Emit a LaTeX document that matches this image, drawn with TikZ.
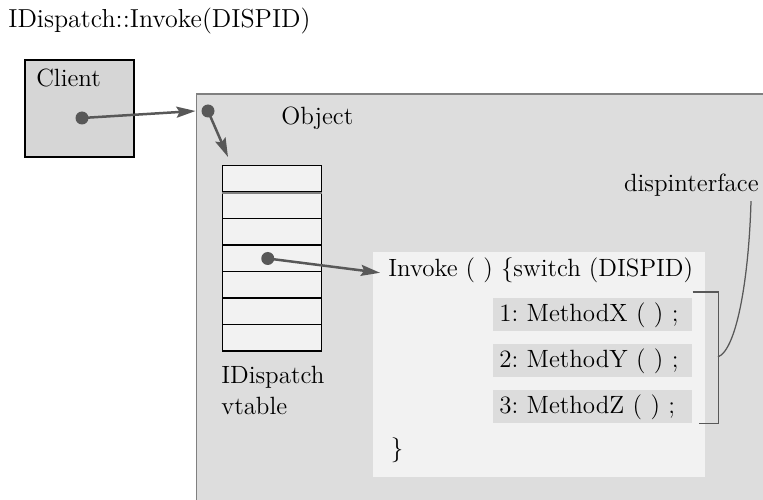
\documentclass[tikz,border=0pt]{standalone}
\frenchspacing
\usetikzlibrary{arrows.meta,positioning}
\definecolor{objgray}{RGB}{221,221,221}
\definecolor{clientgray}{RGB}{214,214,214}
\definecolor{paleback}{RGB}{242,242,242}
\definecolor{methgray}{RGB}{220,220,220}
\definecolor{ptrgray}{RGB}{88,88,88}
\definecolor{edgegray}{RGB}{128,128,128}

\begin{document}
\begin{tikzpicture}[
	every node/.style={font=\fontsize{14.2}{17}\selectfont},
	lbl/.style={anchor=base west,inner sep=0pt},
	dot/.style={circle,fill=ptrgray,inner sep=0pt,minimum size=2.6mm},
	ptr/.style={draw=ptrgray,line width=0.5mm,-{Stealth[length=3.8mm,width=2.2mm,inset=0.6mm]}},
	slot/.style={draw=black,line width=0.3mm,fill=paleback,minimum width=19.8mm,minimum height=5.3mm,inner sep=0pt,anchor=north west},
	methbox/.style={fill=methgray,text width=37.4mm,align=left,minimum height=6.6mm,inner xsep=1.2mm,inner ysep=0pt,anchor=north west},
	brk/.style={draw=ptrgray,line width=0.25mm}
	]
				%\draw[color=gray,step=1mm, help lines,opacity=0.3] (0pt,0pt) grid (152.6mm,99.8mm); %help grids
				\clip (0mm,0mm) rectangle (152.6mm,99.8mm);
				\fill[white] (0mm,0mm) rectangle (152.6mm,99.8mm);

				\node[lbl,font=\fontsize{14.8}{18}\selectfont] (title) at (1.6mm,94.2mm) {IDispatch::Invoke(DISPID)};

				% client
				\node[draw=black,line width=0.45mm,fill=clientgray,minimum width=21.8mm,minimum height=19.4mm,inner sep=0pt,anchor=south west] (client) at (4.8mm,68.2mm) {};
				\node[lbl] (clientname) at (7.2mm,82.4mm) {Client};
				\node[dot] (clientdot) at (16.4mm,76.2mm) {};

				% object
				\node[draw=edgegray,line width=0.35mm,fill=objgray,minimum width=130mm,minimum height=90mm,inner sep=0pt,anchor=north west] (object) at (39.1mm,81.2mm) {};
				\node[lbl] (objname) at (56.2mm,74.8mm) {Object};
				\node[dot] (objdot) at (41.6mm,77.6mm) {};

				% vtable
				\foreach \i in {0,...,6}
					\node[slot] (slot\i) at (44.3mm,66.8mm-\i*5.3mm) {};
				\draw[edgegray,line width=0.3mm] (slot0.south west) -- (slot0.south east);
				\node[dot] (vtdot) at ([xshift=-0.8mm]slot3.center) {};
				\node[lbl] (vtname) at (44.2mm,23mm) {IDispatch};
				\node[lbl] (vtname2) at (44.2mm,16.8mm) {vtable};

				% invoke body
				\node[fill=paleback,minimum width=66.4mm,minimum height=45mm,inner sep=0pt,anchor=south west] (invbox) at (74.6mm,4.4mm) {};
				\node[lbl] (invk) at (77.6mm,44.4mm) {Invoke ( ) \{switch (DISPID)};
				\node[methbox] (meth1) at (98.6mm,40.2mm) {1: MethodX ( ) ;};
				\node[methbox] (meth2) at (98.6mm,31mm) {2: MethodY ( ) ;};
				\node[methbox] (meth3) at (98.6mm,21.8mm) {3: MethodZ ( ) ;};
				\node (close) at (79.4mm,9.8mm) {\}};

				\node[anchor=base east,inner sep=0pt] (disp) at (151.8mm,61.4mm) {dispinterface};
				\coordinate (brmid) at (143.6mm,28.4mm);

				% pointers
				\draw[ptr] (clientdot.center) -- (objdot -| object.west);
				\draw[ptr] (objdot.center) -- ([xshift=1.3mm,yshift=1.6mm]slot0.north west);
				\draw[ptr] (vtdot.center) -- ([xshift=-1.6mm,yshift=-0.4mm]invk.west);

				\draw[brk] ([yshift=1.2mm]meth1.north east) -| ([xshift=5.2mm]meth3.south east) -- ([xshift=1.2mm]meth3.south east);
				\draw[brk] (brmid) .. controls (147.5mm,30mm) and (149.8mm,45mm) .. ([xshift=-1.6mm,yshift=-0.8mm]disp.south east);
\end{tikzpicture}
\end{document}
